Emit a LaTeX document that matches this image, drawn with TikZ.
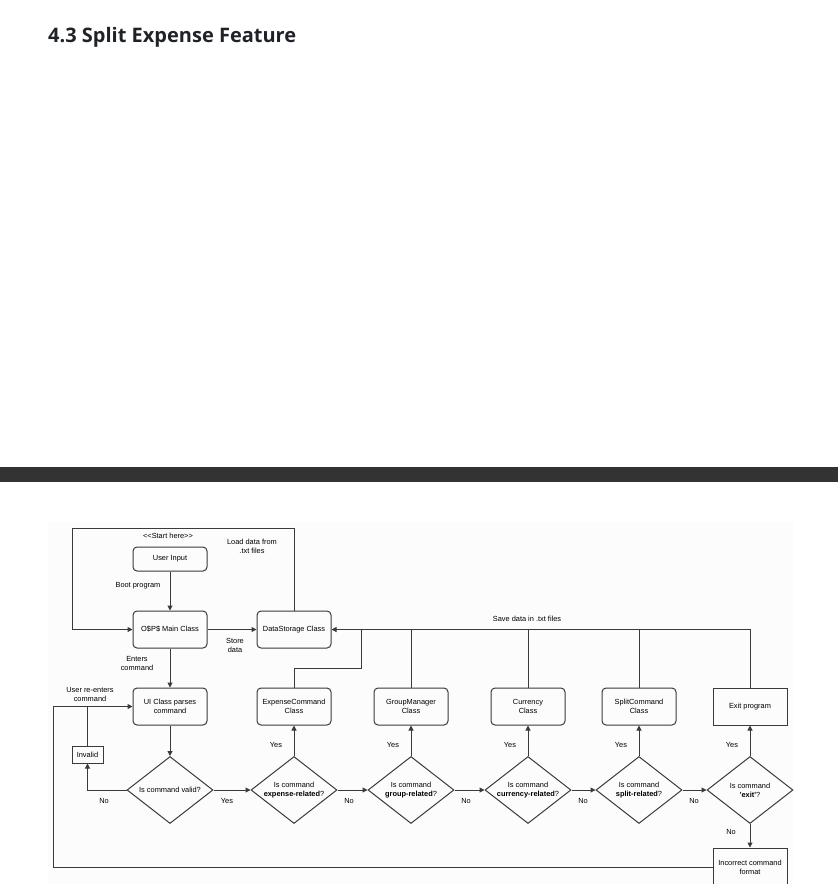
\documentclass[tikz,border=0pt]{standalone}
\usepackage{fontspec}
\setmainfont{Liberation Sans}[Ligatures=TeXOff]
\newfontfamily\titlefont{Open Sans}
\usetikzlibrary{arrows.meta,shapes.geometric}
\definecolor{ln}{HTML}{3A3A3A}
\definecolor{titlec}{HTML}{1F2328}
\definecolor{barc}{HTML}{333333}
\definecolor{dbg}{HTML}{FCFCFC}
\newcommand{\dfont}{\fontsize{7.4}{9}\selectfont}
\tikzset{
  box/.style={draw=ln, line width=1pt, rounded corners=4pt, minimum width=74pt, minimum height=37pt, inner sep=0pt, align=center, font=\dfont},
  sbox/.style={draw=ln, line width=1pt, minimum width=74pt, minimum height=37pt, inner sep=0pt, align=center, font=\dfont},
  dia/.style={draw=ln, line width=1pt, diamond, minimum width=86pt, minimum height=67pt, inner sep=0pt},
  lbl/.style={font=\dfont, align=center, inner sep=0pt},
  arr/.style={draw=ln, line width=1pt, -{Triangle[length=5pt,width=5pt]}},
  pln/.style={draw=ln, line width=1pt}
}
\begin{document}
\begin{tikzpicture}[x=1pt,y=-1pt]
\useasboundingbox (0,0) rectangle (838,884);
\clip (0,0) rectangle (838,884);
\fill[white] (0,0) rectangle (838,884);
% title
\node[anchor=base west, font=\titlefont\bfseries\fontsize{20}{24}\selectfont, text=titlec, inner sep=0pt] (title) at (48,42) {4.3 Split Expense Feature};
% dark bar
\fill[barc] (0,467) rectangle (838,482);
% diagram background
\fill[dbg] (48,522) rectangle (793,884);

% boxes
\node[box, minimum height=24pt] (userin) at (170,559) {User Input};
\node[box] (main) at (170,629.5) {O\$P\$ Main Class};
\node[box] (ds) at (294,629.5) {DataStorage Class};
\node[box] (ui) at (170,706.5) {UI Class parses\\command};
\node[box] (exp) at (294,706.5) {ExpenseCommand\\Class};
\node[box] (grp) at (411,706.5) {GroupManager\\Class};
\node[box] (cur) at (528,706.5) {Currency\\Class};
\node[box] (spl) at (639,706.5) {SplitCommand\\Class};
\node[sbox] (exitp) at (750,706.5) {Exit program};
\node[sbox, minimum width=31pt, minimum height=17pt] (inv) at (87.5,754.5) {Invalid};
\node[sbox, minimum height=38pt] (inc) at (750,867) {Incorrect command\\format};

% diamonds
\node[dia, label={[lbl]center:Is command valid?}] (vd) at (170,790) {};
\node[dia, label={[lbl]center:{Is command\\\textbf{expense-related}?}}] (ed) at (294,790) {};
\node[dia, label={[lbl]center:{Is command\\\textbf{group-related}?}}] (gd) at (411,790) {};
\node[dia, label={[lbl]center:{Is command\\\textbf{currency-related}?}}] (cd) at (528,790) {};
\node[dia, label={[lbl]center:{Is command\\\textbf{split-related}?}}] (sd) at (639,790) {};
\node[dia, label={[lbl]center:{Is command\\\textbf{'exit'}?}}] (xd) at (750,790) {};

% coordinates
\coordinate (ltop) at (72,528);
\coordinate (ej) at (361,668);
\coordinate (lb) at (53,867);

% connectors top
\draw[arr] (userin.south) -- (main.north);
\draw[arr] (main.east) -- (ds.west);
\draw[arr] (main.south) -- (ui.north);
\draw[arr] (ds.north) |- (ltop) |- (main.west);
\draw[arr] (exitp.north) |- (ds.east);
\draw[pln] (grp.north) -- (grp.north |- ds.east);
\draw[pln] (cur.north) -- (cur.north |- ds.east);
\draw[pln] (spl.north) -- (spl.north |- ds.east);
\draw[pln] (exp.north) |- (ej) -- (ej |- ds.east);

% main flow
\draw[arr] (ui.south) -- (vd.north);
\draw[arr] (vd.west) -| (inv.south);
\draw[pln] (inv.north) -- (inv.north |- ui.west);
\draw[arr] (inc.west) -- (lb) |- (ui.west);
\draw[arr] (vd.east) -- (ed.west);
\draw[arr] (ed.east) -- (gd.west);
\draw[arr] (gd.east) -- (cd.west);
\draw[arr] (cd.east) -- (sd.west);
\draw[arr] (sd.east) -- (xd.west);
\draw[arr] (ed.north) -- (exp.south);
\draw[arr] (gd.north) -- (grp.south);
\draw[arr] (cd.north) -- (cur.south);
\draw[arr] (sd.north) -- (spl.south);
\draw[arr] (xd.north) -- (exitp.south);
\draw[arr] (xd.south) -- (inc.north);

% labels
\node[lbl] (l1) at (168,536) {<<Start here>>};
\node[lbl] (l2) at (252,546) {Load data from\\.txt files};
\node[lbl] (l3) at (138,586) {Boot program};
\node[lbl] (l4) at (235,645) {Store\\data};
\node[lbl] (l5) at (137,663) {Enters\\command};
\node[lbl] (l6) at (90,694) {User re-enters\\command};
\node[lbl] (l7) at (527,619) {Save data in .txt files};
\node[lbl] (n1) at (104,801) {No};
\node[lbl] (y1) at (227,801) {Yes};
\node[lbl] (y2) at (276,745) {Yes};
\node[lbl] (n2) at (349,801) {No};
\node[lbl] (y3) at (393,745) {Yes};
\node[lbl] (n3) at (466,801) {No};
\node[lbl] (y4) at (510,745) {Yes};
\node[lbl] (n4) at (583,801) {No};
\node[lbl] (y5) at (621,745) {Yes};
\node[lbl] (n5) at (694,801) {No};
\node[lbl] (y6) at (732,745) {Yes};
\node[lbl] (n6) at (731,832) {No};
\end{tikzpicture}
\end{document}
